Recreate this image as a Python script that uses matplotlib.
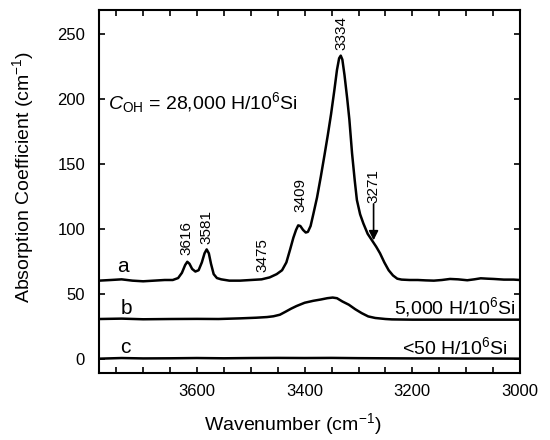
import matplotlib
matplotlib.use("Agg")
import matplotlib.pyplot as plt
from matplotlib.ticker import MultipleLocator

plt.rcParams["font.family"] = ["Liberation Sans", "DejaVu Sans"]
plt.rcParams["mathtext.fontset"] = "custom"
plt.rcParams["mathtext.rm"] = "Liberation Sans"
plt.rcParams["mathtext.it"] = "Liberation Sans:italic"
plt.rcParams["mathtext.default"] = "regular"

# spectrum a (28,000 H/10^6 Si)
wn_a = [3782, 3760, 3740, 3720, 3700, 3680, 3660, 3645, 3635, 3628, 3622, 3618,
        3614, 3609, 3603, 3597, 3591, 3586, 3582, 3578, 3574, 3569, 3563, 3555,
        3540, 3520, 3500, 3480, 3465, 3452, 3442, 3434, 3427, 3421, 3416, 3412,
        3408, 3403, 3398, 3394, 3389, 3384, 3377, 3370, 3363, 3357, 3351, 3345,
        3340, 3336, 3333, 3330, 3326, 3321, 3317, 3312, 3307, 3303, 3297, 3291,
        3283, 3275, 3267, 3260, 3252, 3244, 3236, 3228, 3220, 3205, 3190, 3175,
        3160, 3145, 3130, 3115, 3098, 3085, 3073, 3060, 3049, 3030, 3012, 3000]
abs_a = [60, 60.5, 61, 60, 59.5, 60, 60.5, 60.5, 62, 66, 72, 74.5,
         73, 69, 67, 68, 74, 81, 84, 81, 73, 65, 62, 61,
         60, 60, 60.5, 61, 62.5, 65, 68, 74, 84, 93, 99, 102.5,
         102, 99, 97, 97.5, 102, 111, 124, 140, 157, 172, 188, 206,
         222, 231, 233, 230, 218, 200, 184, 158, 137, 122, 111, 104,
         96, 91, 86, 81, 74, 68, 64, 61.5, 60.8, 60.5, 60.5, 60.2,
         60, 60.5, 61.3, 61, 60.3, 61, 61.8, 61.5, 61.3, 60.8, 60.8, 60.5]

# spectrum b (5,000 H/10^6 Si)
wn_b = [3782, 3740, 3700, 3650, 3600, 3560, 3520, 3490, 3470, 3458, 3446, 3436,
        3425, 3415, 3400, 3384, 3370, 3358, 3348, 3340, 3330, 3318, 3306, 3294,
        3282, 3269, 3250, 3238, 3200, 3150, 3100, 3050, 3000]
abs_b = [30.5, 30.8, 30.3, 30.5, 30.6, 30.5, 31, 31.5, 32, 32.6, 33.8, 36,
         38.5, 40.5, 43, 44.5, 45.5, 46.5, 47, 46.5, 44, 41.5, 38, 35,
         32.5, 31.3, 30.5, 30.2, 30, 30, 30, 30, 30]

# spectrum c (<50 H/10^6 Si)
wn_c = [3782, 3740, 3700, 3650, 3600, 3550, 3500, 3450, 3400, 3350, 3300,
        3250, 3200, 3150, 3100, 3050, 3000]
abs_c = [0, 0.5, 0.2, 0.3, 0.5, 0.3, 0.5, 0.6, 0.5, 0.6, 0.4,
         0.3, 0.2, 0.2, 0.1, 0.1, 0]

peak_labels = ["3616", "3581", "3475", "3409", "3334"]
peak_pos = [(3619, 80), (3582, 88), (3478, 67), (3408, 113), (3331, 237)]


def main() -> None:
    fig = plt.figure(figsize=(5.5, 4.4), dpi=100)
    ax = fig.add_axes([0.18, 0.1523, 0.7655, 0.8247])

    for wn, ab in [(wn_a, abs_a), (wn_b, abs_b), (wn_c, abs_c)]:
        ax.plot(wn, ab, color="black", lw=1.8, solid_joinstyle="round")

    ax.set_xlim(3782, 3000)
    ax.set_ylim(-11, 268)
    ax.xaxis.set_major_locator(MultipleLocator(200))
    ax.xaxis.set_minor_locator(MultipleLocator(50))
    ax.yaxis.set_major_locator(MultipleLocator(50))
    ax.tick_params(which="both", direction="in", top=True, right=True,
                   length=4, width=1.2, labelsize=12)
    ax.tick_params(axis="y", pad=10)
    ax.tick_params(axis="x", pad=8)
    for sp in ax.spines.values():
        sp.set_linewidth(1.5)

    ax.set_xlabel("Wavenumber (cm$^{-1}$)", fontsize=14)
    ax.set_ylabel("Absorption Coefficient (cm$^{-1}$)", fontsize=14)
    ax.xaxis.set_label_coords(0.46, -0.105)
    ax.yaxis.set_label_coords(-0.15, 0.54)

    for lab, (x, y) in zip(peak_labels, peak_pos):
        ax.text(x, y, lab, rotation=90, ha="center", va="bottom", fontsize=11)
    ax.text(3272, 120, "3271", rotation=90, ha="center", va="bottom", fontsize=11)
    ax.annotate("", xy=(3272, 91), xytext=(3272, 119),
                arrowprops=dict(arrowstyle="-|>", color="black", lw=1.2,
                                mutation_scale=14, shrinkA=0, shrinkB=0))

    ax.text(3766, 197, r"$\it{C}_{\rm OH}$ = 28,000 H/10$^6$Si",
            ha="left", va="center", fontsize=14)
    ax.text(3009, 40, "5,000 H/10$^6$Si", ha="right", va="center", fontsize=14)
    ax.text(3022, 8.5, "<50 H/10$^6$Si", ha="right", va="center", fontsize=14)
    ax.text(3738, 71, "a", ha="center", va="center", fontsize=15)
    ax.text(3731, 38.5, "b", ha="center", va="center", fontsize=15)
    ax.text(3733, 8.5, "c", ha="center", va="center", fontsize=15)

    fig.savefig("out.png", dpi=100)


if __name__ == "__main__":
    main()
